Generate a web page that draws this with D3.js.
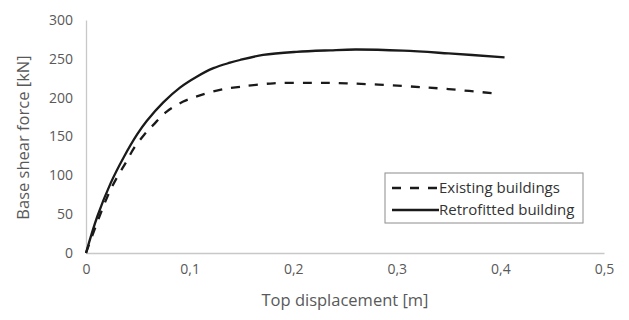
<!DOCTYPE html>
<html>
<head>
<meta charset="utf-8">
<script src="https://cdn.jsdelivr.net/npm/d3@7"></script>
<style>
  html, body { margin: 0; padding: 0; background: #fff; }
  svg { display: block; font-family: "Open Sans", sans-serif; }
</style>
</head>
<body>
<svg id="chart" width="629" height="320"></svg>
<script>
// Pushover curves: base shear force vs. top displacement
const existingDisp = [0, 0.0206, 0.0302, 0.0383, 0.0463, 0.056, 0.065, 0.0779, 0.0939, 0.11, 0.1293, 0.1486, 0.181, 0.219, 0.2516, 0.306, 0.35, 0.398];
const existingShear = [0, 72.5, 98, 116, 135, 152, 165, 182, 195, 203, 210, 214, 218.5, 219, 218.5, 215, 211, 205];

const retrofitDisp = [0, 0.0109, 0.0238, 0.0367, 0.0495, 0.0586, 0.0746, 0.0907, 0.1069, 0.123, 0.139, 0.1486, 0.171, 0.203, 0.2355, 0.26, 0.306, 0.35, 0.404];
const retrofitShear = [0, 47, 90, 124, 153, 170, 194, 213, 227, 238, 245, 248.5, 255, 259, 261, 262, 260.5, 257, 252];

const xTicks = [0, 0.1, 0.2, 0.3, 0.4, 0.5];
const yTicks = [0, 50, 100, 150, 200, 250, 300];

const seriesNames = ["Existing buildings", "Retrofitted building"];
const xTitle = "Top displacement [m]";
const yTitle = "Base shear force [kN]";

const svg = d3.select("#chart");
const margin = { left: 86, right: 25, top: 20, bottom: 67 };
const W = 629, H = 320;

const x = d3.scaleLinear().domain([0, 0.5]).range([margin.left, W - margin.right]);
const y = d3.scaleLinear().domain([0, 300]).range([H - margin.bottom, margin.top]);

const axisColor = "#c8c8c8";
const labelColor = "#595959";

// X axis
const xAxis = svg.append("g")
  .attr("transform", `translate(0,${y(0)})`)
  .call(d3.axisBottom(x).tickValues(xTicks).tickSize(0).tickPadding(11)
    .tickFormat(d => d === 0 ? "0" : d3.format(".1f")(d).replace(".", ",")));
xAxis.select(".domain").attr("stroke", axisColor).attr("stroke-width", 1.3);
xAxis.selectAll("text").attr("fill", labelColor).attr("font-size", 14).attr("font-family", "Open Sans, sans-serif");

// Y axis
const yAxis = svg.append("g")
  .attr("transform", `translate(${x(0)},0)`)
  .call(d3.axisLeft(y).tickValues(yTicks).tickSize(0).tickPadding(13));
yAxis.select(".domain").attr("stroke", axisColor).attr("stroke-width", 1.3);
yAxis.selectAll("text").attr("fill", labelColor).attr("font-size", 14).attr("font-family", "Open Sans, sans-serif");

// Axis titles
svg.append("text")
  .attr("x", (x(0) + x(0.5)) / 2)
  .attr("y", 306)
  .attr("text-anchor", "middle")
  .attr("fill", labelColor)
  .attr("font-size", 16.5)
  .text(xTitle);

svg.append("text")
  .attr("transform", `translate(29,${(y(0) + y(300)) / 2 + 1}) rotate(-90)`)
  .attr("text-anchor", "middle")
  .attr("fill", labelColor)
  .attr("font-size", 16.5)
  .text(yTitle);

// Curves
const line = d3.line()
  .x(d => x(d[0]))
  .y(d => y(d[1]))
  .curve(d3.curveCatmullRom.alpha(0.5));

const existing = existingDisp.map((d, i) => [d, existingShear[i]]);
const retrofit = retrofitDisp.map((d, i) => [d, retrofitShear[i]]);

svg.append("path")
  .datum(existing)
  .attr("d", line)
  .attr("fill", "none")
  .attr("stroke", "#1a1a1a")
  .attr("stroke-width", 2.3)
  .attr("stroke-dasharray", "9,9");

svg.append("path")
  .datum(retrofit)
  .attr("d", line)
  .attr("fill", "none")
  .attr("stroke", "#1a1a1a")
  .attr("stroke-width", 2.3);

// Legend
const lg = svg.append("g").attr("transform", "translate(385,173)");
lg.append("rect")
  .attr("width", 198).attr("height", 50)
  .attr("fill", "#fff")
  .attr("stroke", "#8c8c8c").attr("stroke-width", 1);

const rows = [
  { name: seriesNames[0], dash: "9,9", yy: 15 },
  { name: seriesNames[1], dash: null, yy: 37 }
];
rows.forEach(r => {
  const ln = lg.append("line")
    .attr("x1", 7).attr("x2", 54)
    .attr("y1", r.yy).attr("y2", r.yy)
    .attr("stroke", "#1a1a1a").attr("stroke-width", 2.3);
  if (r.dash) ln.attr("stroke-dasharray", r.dash);
  lg.append("text")
    .attr("x", 54).attr("y", r.yy)
    .attr("dy", "0.35em")
    .attr("fill", "#333")
    .attr("font-size", 15)
    .text(r.name);
});
</script>
</body>
</html>
